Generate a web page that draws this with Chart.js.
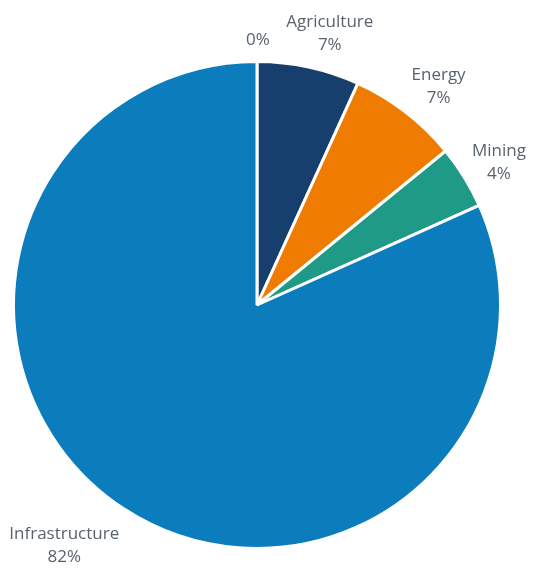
<!DOCTYPE html>
<html>
<head>
<meta charset="utf-8">
<script src="https://cdn.jsdelivr.net/npm/chart.js@4"></script>
<style>
  html, body { margin: 0; padding: 0; background: #fff; }
  #wrap { width: 538px; height: 574px; }
</style>
</head>
<body>
<div id="wrap"><canvas id="sectorPie" width="538" height="574"></canvas></div>
<script>
// sectors, share of total (%)
const sectors = ["", "Agriculture", "Energy", "Mining", "Infrastructure"];
const shares = [0, 6.8, 7.3, 4.2, 81.7];
const colors = ["#0b7dbd", "#173f6e", "#ef7b00", "#1f9a87", "#0b7dbd"];

const labelFont = "17px 'Open Sans', sans-serif";
const lineH = 23;

// name + percent drawn outside each slice
const outsideLabels = {
  id: "outsideLabels",
  afterDatasetsDraw(chart) {
    const ctx = chart.ctx;
    const meta = chart.getDatasetMeta(0);
    const total = shares.reduce((a, b) => a + b, 0);
    ctx.save();
    ctx.font = labelFont;
    ctx.fillStyle = "#59636e";
    ctx.textAlign = "center";
    ctx.textBaseline = "middle";
    meta.data.forEach((arc, i) => {
      const { x, y, startAngle, endAngle, outerRadius } = arc.getProps(["x", "y", "startAngle", "endAngle", "outerRadius"], true);
      const mid = (startAngle + endAngle) / 2;
      const lines = [];
      if (sectors[i]) lines.push(sectors[i]);
      lines.push(Math.round(shares[i] / total * 100) + "%");
      const w = Math.max(...lines.map(t => ctx.measureText(t).width));
      const h = lines.length * lineH;
      const c = Math.cos(mid), s = Math.sin(mid);
      // push the text box out until it clears the rim;
      // labels under the pie hang a little lower
      const kx = Math.min(1, 2 * Math.abs(c));
      const ky = s > 0 ? 1.3 : 1.15 * Math.pow(Math.abs(s), 1.5);
      const cx = x + c * (outerRadius + 8) + Math.sign(c) * (kx * w / 2 + 1);
      const cy = y + s * (outerRadius + 8) + Math.sign(s) * ky * h / 2;
      lines.forEach((t, k) => {
        ctx.fillText(t, cx, cy - h / 2 + lineH * (k + 0.5));
      });
    });
    ctx.restore();
  }
};

const ctx = document.getElementById("sectorPie").getContext("2d");
const pieChart = new Chart(ctx, {
  type: "pie",
  data: {
    labels: sectors,
    datasets: [{
      data: shares,
      backgroundColor: colors,
      borderColor: "#ffffff",
      borderWidth: 3
    }]
  },
  options: {
    responsive: false,
    maintainAspectRatio: false,
    animation: false,
    layout: { padding: { top: 60, bottom: 24, left: 12, right: 36 } },
    plugins: {
      legend: { display: false },
      tooltip: { enabled: false }
    }
  },
  plugins: [outsideLabels]
});
</script>
</body>
</html>
